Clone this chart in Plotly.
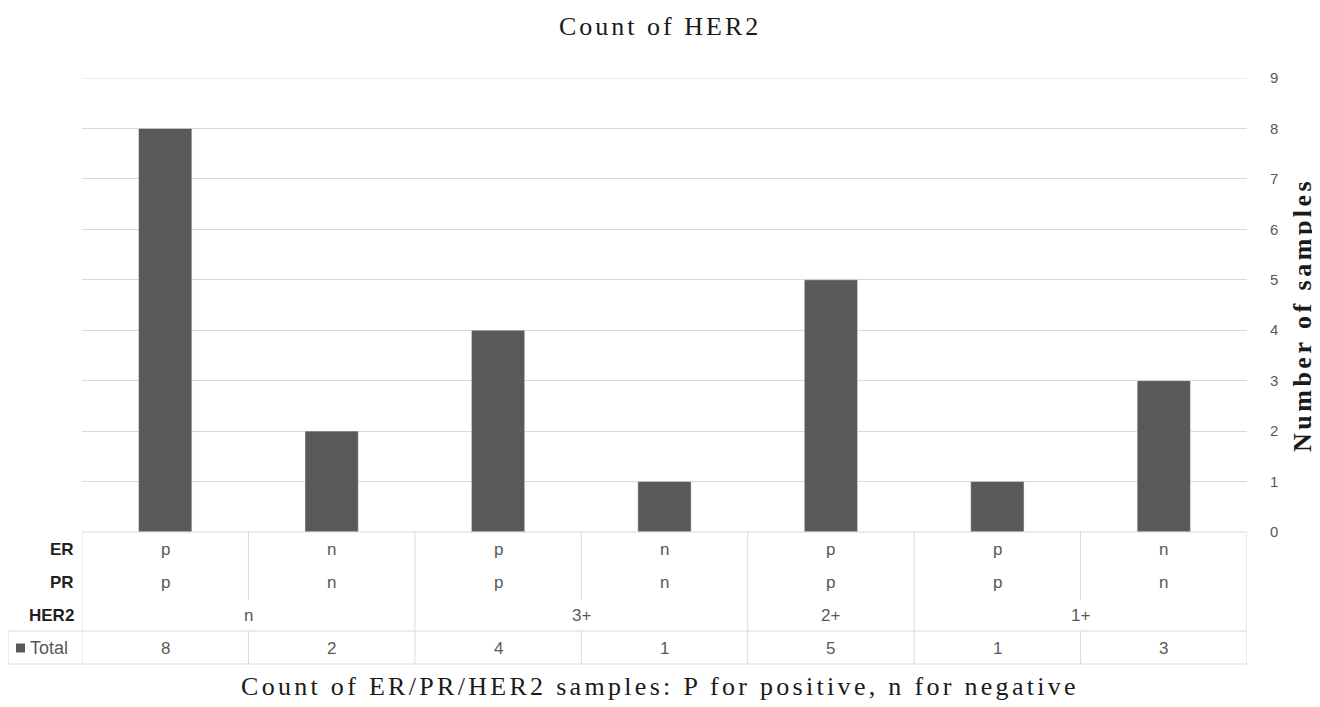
import plotly.graph_objects as go

# ---- data ----
er = ["p", "n", "p", "n", "p", "p", "n"]
pr = ["p", "n", "p", "n", "p", "p", "n"]
her2 = ["n", "n", "3+", "3+", "2+", "1+", "1+"]
totals = [8, 2, 4, 1, 5, 1, 3]
row_labels = ["ER", "PR", "HER2"]
series_name = "Total"
y_ticks = [0, 1, 2, 3, 4, 5, 6, 7, 8, 9]

title_text = "Count of HER2"
x_title = "Count of ER/PR/HER2 samples: P for positive, n for negative"
y_title = "Number of samples"

# ---- style / layout (page has an 8px body margin) ----
OFF = 8
W, H = 1312, 699
L, T = 74, 70
plot_right, plot_bottom = 1239, 524
R, B = W - plot_right, H - plot_bottom
plot_h = plot_bottom - T
plot_w = plot_right - L
BAR = "#595959"
GRID = "#d9d9d9"
TXT = "#595959"
SANS = "Liberation Sans, Arial, sans-serif"
SERIF = "Liberation Serif, Times New Roman, serif"

def py_below(p):
    """pixel offset below plot bottom -> paper y"""
    return -p / plot_h

def sy(s):
    """screen y -> paper y"""
    return (plot_bottom - (s - OFF)) / plot_h

def sx(s):
    """screen x -> paper x"""
    return (s - OFF - L) / plot_w

n = len(totals)
xs = list(range(n))

fig = go.Figure()
fig.add_trace(go.Bar(x=xs, y=totals, marker_color=BAR, width=0.32,
                     name=series_name, showlegend=False, hoverinfo="y"))

shapes = []
ann = []

def hline(x0, x1, yp, xref="x"):
    shapes.append(dict(type="line", xref=xref, yref="paper", x0=x0, x1=x1,
                       y0=py_below(yp), y1=py_below(yp), line=dict(color=GRID, width=1)))

def vline(x, y0p, y1p, xref="x"):
    shapes.append(dict(type="line", xref=xref, yref="paper", x0=x, x1=x,
                       y0=py_below(y0p), y1=py_below(y1p), line=dict(color=GRID, width=1)))

# top gridline (plotly drops gridlines at the range ends)
shapes.append(dict(type="line", xref="x", yref="y", x0=-0.5, x1=n - 0.5,
                   y0=max(y_ticks), y1=max(y_ticks), layer="below",
                   line=dict(color=GRID, width=1)))

# table row positions (pixels below axis)
row_c = [17, 50, 83]
total_c = 116
line_mid = 68
line_total = 99
line_bot = 132

hline(-0.5, n - 0.5, 0)
hline(-0.5, n - 0.5, line_total)
hline(-0.5, n - 0.5, line_bot)
hline(sx(8), 0, line_total, xref="paper")
hline(sx(8), 0, line_bot, xref="paper")
vline(sx(8), line_total, line_bot, xref="paper")

vline(-0.5, 0, line_bot)
vline(n - 0.5, 0, line_bot)

groups = []
start = 0
for i in range(1, n + 1):
    if i == n or her2[i] != her2[start]:
        groups.append((start, i - 1, her2[start]))
        start = i

group_bounds = set(g[1] for g in groups[:-1])
for i in range(n - 1):
    if i in group_bounds:
        vline(i + 0.5, 0, line_bot)
    else:
        vline(i + 0.5, 0, line_mid)
        vline(i + 0.5, line_total, line_bot)

font_t = dict(family=SANS, size=17, color=TXT)

def add_text(x, y, text, font, xref="x", xanchor="center", **kw):
    ann.append(dict(x=x, y=y, xref=xref, yref="paper", text=text, showarrow=False,
                    xanchor=xanchor, yanchor="middle", font=font, **kw))

for i in range(n):
    add_text(xs[i], py_below(row_c[0]), er[i], font_t)
    add_text(xs[i], py_below(row_c[1]), pr[i], font_t)
    add_text(xs[i], py_below(total_c), str(totals[i]), font_t)
for g0, g1, lab in groups:
    add_text((g0 + g1) / 2, py_below(row_c[2]), lab, font_t)

for lab, c in zip(row_labels, row_c):
    add_text(sx(76), py_below(c), "<b>" + lab + "</b>",
             dict(family=SANS, size=17, color="#1f1f1f"), xref="paper", xanchor="right")
# legend key square for the Total row
shapes.append(dict(type="rect", xref="paper", yref="paper",
                   x0=sx(16), x1=sx(25), y0=py_below(total_c - 4.5), y1=py_below(total_c + 4.5),
                   fillcolor=BAR, line=dict(width=0)))
add_text(sx(28), py_below(total_c), series_name,
         dict(family=SANS, size=18, color=TXT), xref="paper", xanchor="left")

# titles (letter-spaced serif to match the wide reference lettering)
add_text(sx(660), sy(26), "<span style='letter-spacing:3px'>" + title_text + "</span>",
         dict(family=SERIF, size=26, color="#1a1a1a"), xref="paper")
add_text(sx(660), sy(686), "<span style='letter-spacing:3.3px'>" + x_title + "</span>",
         dict(family=SERIF, size=26, color="#1a1a1a"), xref="paper")
add_text(sx(1302), sy(315), "<span style='letter-spacing:3.5px'><b>" + y_title + "</b></span>",
         dict(family=SERIF, size=26, color="#1a1a1a"), xref="paper", textangle=-90)

fig.update_layout(
    width=W, height=H,
    margin=dict(l=L, r=R, t=T, b=B),
    plot_bgcolor="white", paper_bgcolor="white",
    shapes=shapes, annotations=ann,
)
fig.update_xaxes(range=[-0.5, n - 0.5], showticklabels=False, showgrid=False,
                 zeroline=False, showline=False, ticks="")
fig.update_yaxes(range=[0, 9], side="right", tickvals=y_ticks, showgrid=True,
                 gridcolor=GRID, gridwidth=1, zeroline=False, showline=False,
                 ticks="", ticklabelstandoff=22,
                 tickfont=dict(family=SANS, size=15, color=TXT))

fig.write_html("out.html")
